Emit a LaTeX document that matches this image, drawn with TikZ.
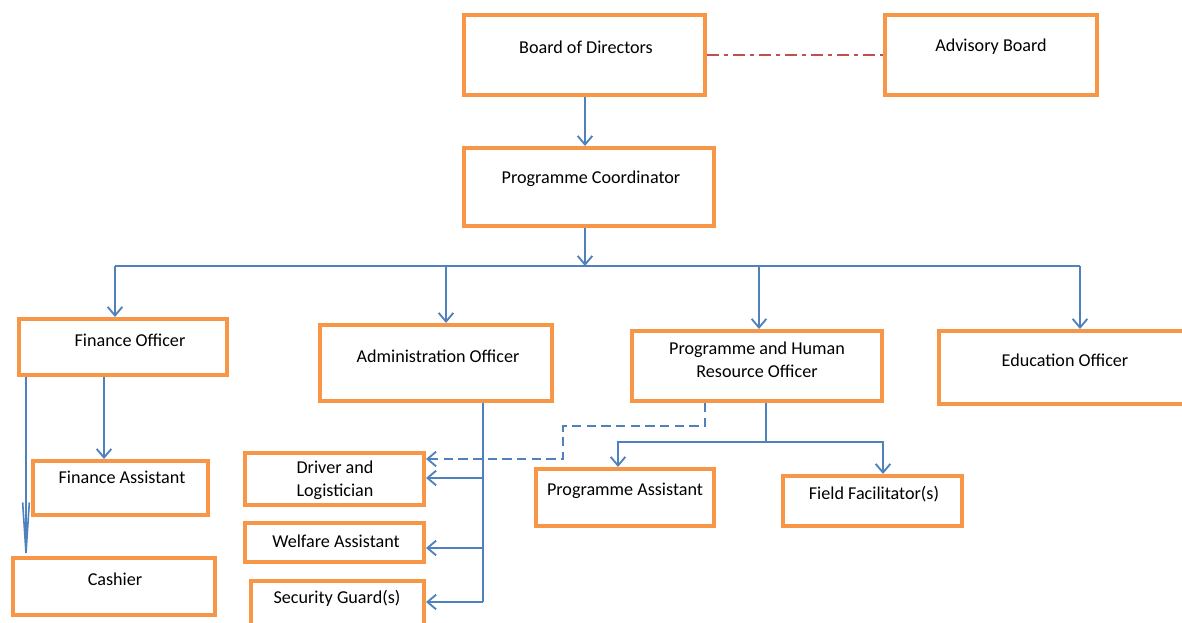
\documentclass[tikz,border=0pt]{standalone}
\usepackage{fontspec}
\setmainfont{Carlito}
\usetikzlibrary{arrows.meta}

\definecolor{boxorange}{RGB}{247,150,70}
\definecolor{linkblue}{RGB}{79,129,189}
\definecolor{dashred}{RGB}{192,80,77}

\tikzset{every picture/.style={line width=0.75pt}}
\tikzset{
	box/.style={draw=boxorange, line width=3pt, rectangle, inner sep=0pt},
	sz/.style 2 args={minimum width=#1*0.75pt, minimum height=#2*0.75pt},
	lbl/.style={font=\fontsize{13.6}{17.25}\selectfont, align=center, inner sep=0pt},
	link/.style={draw=linkblue, line width=1.6pt},
	arr/.style={link, -{Straight Barb[length=6.5pt,width=11pt,line width=1.4pt]}},
	longarr/.style={link, shorten >=-7pt, -{Straight Barb[length=38pt,width=5pt,line width=1.2pt]}},
	dlink/.style={arr, dash pattern=on 7pt off 4pt},
	dashdot/.style={draw=dashred, line width=1.6pt, dash pattern=on 9pt off 4pt on 2.5pt off 4pt}
}

\begin{document}
\begin{tikzpicture}[x=0.75pt,y=0.75pt,yscale=-1,xscale=1]
	\useasboundingbox (0,0) rectangle (1182,623);

	%Shape: Rectangle [boxes]
	\node [box, sz={241}{80}] (bod) at (584.5,55) {};
	\node [box, sz={212}{80}] (adv) at (991,55) {};
	\node [box, sz={250}{78}] (coord) at (589,187) {};
	\node [box, sz={208}{56}] (fin) at (123,347) {};
	\node [box, sz={232}{76}] (admin) at (436,363) {};
	\node [box, sz={250}{70}] (phro) at (757,366) {};
	\node [box, sz={249}{73}] (edu) at (1063.5,367.5) {};
	\node [box, sz={175}{54}] (finas) at (120.5,488) {};
	\node [box, sz={202}{57}] (cash) at (114,586.5) {};
	\node [box, sz={179}{52}] (drv) at (334.5,479) {};
	\node [box, sz={179}{39}] (wel) at (334.5,542.5) {};
	\node [box, sz={173}{57}] (sec) at (337.5,609.5) {};
	\node [box, sz={178}{57}] (pa) at (625,497.5) {};
	\node [box, sz={179}{50}] (ff) at (872.5,501) {};

	% Text Node
	\node [lbl] (bod-t) at (586,47) {Board of Directors};
	% Text Node
	\node [lbl] (adv-t) at (991,47) {Advisory Board};
	% Text Node
	\node [lbl] (coord-t) at (591,179) {Programme Coordinator};
	% Text Node
	\node [lbl] (fin-t) at (130,340) {Finance Officer};
	% Text Node
	\node [lbl] (admin-t) at (438,356) {Administration Officer};
	% Text Node
	\node [lbl] (phro-t) at (757,359.5) {Programme and Human\\Resource Officer};
	% Text Node
	\node [lbl] (edu-t) at (1065,360) {Education Officer};
	% Text Node
	\node [lbl] (finas-t) at (122,477) {Finance Assistant};
	% Text Node
	\node [lbl] (cash-t) at (115,579) {Cashier};
	% Text Node
	\node [lbl] (drv-t) at (335,480.5) {Driver and\\Logistician};
	% Text Node
	\node [lbl] (wel-t) at (336,541) {Welfare Assistant};
	% Text Node
	\node [lbl] (sec-t) at (337,598) {Security Guard(s)};
	% Text Node
	\node [lbl] (pa-t) at (625,491) {Programme Assistant};
	% Text Node
	\node [lbl] (ff-t) at (874,494) {Field Facilitator(s)};

	% bend points
	\coordinate (bus) at (585,266);
	\coordinate (busL) at (115,266);
	\coordinate (busA) at (446,266);
	\coordinate (busP) at (759,266);
	\coordinate (busR) at (1080,266);
	\coordinate (f1) at (104,0);
	\coordinate (f2) at (26,0);
	\coordinate (d1) at (483,478);
	\coordinate (w1) at (483,548);
	\coordinate (s1) at (483,602);
	\coordinate (h1) at (705,426);
	\coordinate (h2) at (563,426);
	\coordinate (h3) at (563,459);
	\coordinate (p1) at (766,442);
	\coordinate (pL) at (618,442);
	\coordinate (pR) at (883,442);

	%Straight Lines [top]
	\draw [dashdot] (bod.east) -- (adv.west);
	\draw [arr] (bod.south -| bus) -- (bus |- coord.north);
	\draw [arr] (coord.south -| bus) -- (bus);
	\draw [link] (busL) -- (busR);
	\draw [arr] (busL) -- (busL |- fin.north);
	\draw [arr] (busA) -- (busA |- admin.north);
	\draw [arr] (busP) -- (busP |- phro.north);
	\draw [arr] (busR) -- (busR |- edu.north);

	%Straight Lines [finance]
	\draw [arr] (fin.south -| f1) -- (f1 |- finas.north);
	\draw [longarr] (fin.south -| f2) -- (f2 |- cash.north);

	%Straight Lines [administration]
	\draw [link] (admin.south -| d1) -- (s1);
	\draw [arr] (d1) -- (d1 -| drv.east);
	\draw [arr] (w1) -- (w1 -| wel.east);
	\draw [arr] (s1) -- (s1 -| sec.east);
	\draw [dlink] (phro.south -| h1) -- (h1) -- (h2) -- (h3) -- (h3 -| drv.east);

	%Straight Lines [programme]
	\draw [link] (phro.south -| p1) -- (p1);
	\draw [arr] (p1) -- (pL) -- (pL |- pa.north);
	\draw [arr] (p1) -- (pR) -- (pR |- ff.north);

\end{tikzpicture}
\end{document}
